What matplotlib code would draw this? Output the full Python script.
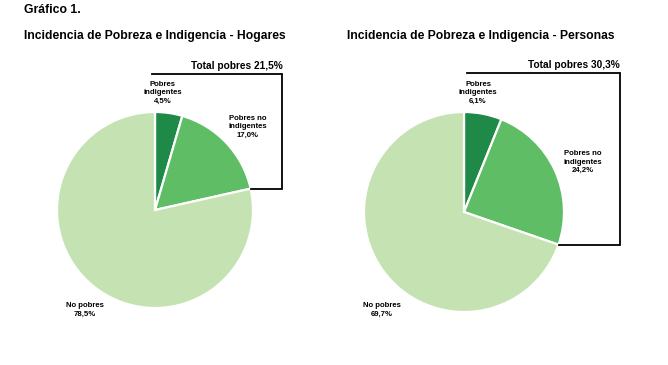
import matplotlib
matplotlib.use("Agg")
import matplotlib.pyplot as plt
import numpy as np

plt.rcParams['font.family'] = ['Liberation Sans', 'DejaVu Sans']

categories = ["Pobres\nindigentes", "Pobres no\nindigentes", "No pobres"]
hogares = [4.5, 17.0, 78.5]
personas = [6.1, 24.2, 69.7]
total_hogares = "Total pobres 21,5%"
total_personas = "Total pobres 30,3%"
colors = ["#1f8a48", "#5fbd66", "#c5e3b2"]

W, H = 668, 365
fig = plt.figure(figsize=(W / 100, H / 100), dpi=100)
fig.patch.set_facecolor("white")

ov = fig.add_axes([0, 0, 1, 1])
ov.set_xlim(0, W)
ov.set_ylim(H, 0)
ov.axis("off")

ov.text(24, 10, "Gráfico 1.", fontsize=8.8, fontweight="bold", va="center", ha="left")
ov.text(24, 36, "Incidencia de Pobreza e Indigencia - Hogares", fontsize=8.7,
        fontweight="bold", va="center", ha="left")
ov.text(347, 36, "Incidencia de Pobreza e Indigencia - Personas", fontsize=8.7,
        fontweight="bold", va="center", ha="left")


def fmt(v):
    return f"{v:.1f}".replace(".", ",") + "%"


def draw(cx, cy, r, values, total, box_top, box_left, box_right, lab_pos):
    ax = fig.add_axes([(cx - r) / W, (H - cy - r) / H, 2 * r / W, 2 * r / H])
    ax.pie(values, colors=colors, startangle=90, counterclock=False,
           wedgeprops=dict(edgecolor="white", linewidth=1.6))
    ax.set_xlim(-1, 1)
    ax.set_ylim(-1, 1)
    ax.axis("off")
    # bracket around poor share
    frac = (values[0] + values[1]) / 100.0
    ang = np.deg2rad(90 - frac * 360)
    ex, ey = np.cos(ang), np.sin(ang)
    ax.plot([box_left, box_right, box_right, ex], [box_top, box_top, ey, ey],
            color="black", lw=1.3, clip_on=False, solid_joinstyle="miter")
    ov.text(cx + box_right * r, cy - box_top * r - 3, total, fontsize=7.3,
            fontweight="bold", ha="right", va="bottom")
    for (lx, ly), cat, v in zip(lab_pos, categories, values):
        ov.text(lx, ly, cat + "\n" + fmt(v), fontsize=5.6, fontweight="bold",
                ha="center", va="center", linespacing=1.25)


draw(155, 210, 98, hogares, total_hogares, 1.39, -0.03, 1.30,
     [(163, 93), (248, 127), (85, 310)])
draw(464, 212, 100, personas, total_personas, 1.39, 0.03, 1.56,
     [(478, 93), (583, 162), (382, 310)])

fig.savefig("out.png", dpi=100, facecolor="white")
